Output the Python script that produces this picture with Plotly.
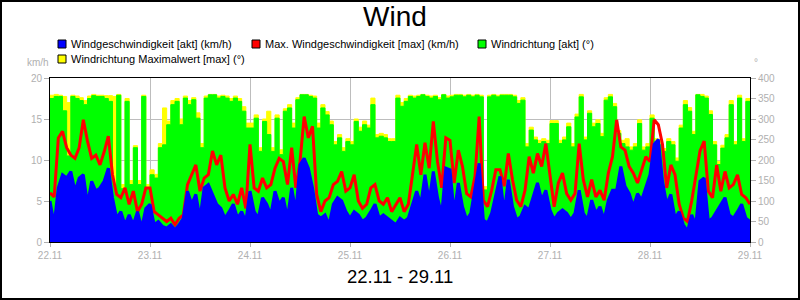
import plotly.graph_objects as go
import pandas as pd

# ---- data (hourly, 22.11 00:00 .. 29.11 00:00) ----
times = pd.date_range("2021-11-22 00:00", periods=169, freq="h")

wind_dir = [  # Windrichtung [akt] (deg)
    350,355,355,320,210,355,350,345,335,350,357,355,355,350,343,140,358,130,343,140,230,140,355,130,
    164,156,230,237,286,335,343,286,351,335,347,302,230,351,359,359,351,355,351,343,351,343,319,278,
    278,302,221,294,262,221,302,213,319,327,278,347,359,359,355,351,278,327,310,286,237,254,221,245,
    237,294,270,286,278,335,254,258,254,245,245,351,331,343,355,351,355,359,355,351,355,347,359,351,
    354,358,358,354,358,354,358,354,127,354,358,354,358,358,358,354,338,346,232,273,249,240,245,240,
    289,289,240,249,
    281,232,305,354,249,314,281,289,257,346,354,330,265,240,232,224,232,289,224,232,
    302,245,237,221,245,237,197,278,335,319,262,359,355,351,311,237,189,229,254,335,237,351,245,343,311,
]
wind_dir_max = [  # Windrichtung Maximalwert [max] (deg)
    358,360,358,355,340,358,356,352,345,356,360,358,358,357,357,355,360,140,350,150,235,150,358,140,
    176,165,240,327,295,345,350,300,356,345,352,315,240,356,360,360,356,358,356,350,356,350,330,290,
    290,310,230,300,319,230,310,225,325,335,290,352,360,360,358,356,290,335,318,295,245,262,230,252,
    245,300,280,295,285,351,262,265,262,252,252,358,340,350,358,356,358,360,358,356,358,352,360,356,
    358,360,360,358,360,358,360,358,135,358,360,358,360,360,360,358,345,352,240,280,256,248,252,248,
    296,296,248,256,
    290,240,312,360,256,320,290,298,265,352,360,338,272,248,252,232,240,298,232,240,
    310,252,245,228,252,245,205,285,345,328,270,360,360,356,320,245,196,236,262,345,245,358,252,350,320,
]
speed_max = [  # Max. Windgeschwindigkeit [max] (km/h)
    6.0,5.5,12.7,13.5,11.5,10.6,10.2,11.5,14.9,12.3,10.2,10.6,9.4,11.0,12.9,8.2,5.8,5.4,6.6,4.6,6.2,3.7,4.6,6.6,
    6.6,3.7,3.3,2.9,2.5,2.9,2.1,2.9,3.3,7.0,8.2,9.4,6.2,7.8,8.2,11.1,9.4,10.6,6.6,5.0,5.8,4.6,6.6,4.1,
    11.9,6.6,6.2,7.8,6.6,7.0,9.0,10.2,9.8,7.0,11.5,6.6,9.8,15.3,12.7,14.1,5.8,3.7,5.0,5.4,7.0,7.4,8.6,6.2,
    6.6,8.2,5.0,4.1,4.6,6.6,7.0,5.0,4.6,5.4,3.7,4.6,5.4,3.7,4.6,8.2,11.9,8.2,12.1,9.0,14.7,9.8,6.6,12.7,
    12.4,7.2,11.2,9.2,5.9,5.5,8.0,15.3,5.1,4.3,6.3,8.8,8.8,6.8,10.8,7.6,5.1,4.3,6.3,10.4,8.4,10.8,9.2,12.0,
    8.4,4.3,7.2,8.4,
    5.9,5.1,5.9,12.0,7.6,5.5,7.6,5.5,6.3,5.1,8.4,10.4,14.9,11.6,11.2,9.2,8.4,7.2,8.8,10.4,
    9.8,14.9,14.3,11.9,6.6,9.4,8.2,4.6,2.9,2.5,5.0,7.8,11.1,12.3,6.2,5.4,9.4,6.2,8.6,6.6,7.0,8.2,5.8,5.4,4.6,
]
speed = [  # Windgeschwindigkeit [akt] (km/h)
    5.0,2.1,6.6,8.2,7.8,8.6,6.2,7.8,8.2,4.6,7.4,6.2,6.6,7.4,9.0,5.4,2.9,3.7,2.1,3.3,2.1,3.7,1.7,4.1,
    4.6,2.1,2.5,1.9,1.7,2.1,1.5,2.1,2.9,6.2,4.6,5.8,2.9,6.6,7.0,5.8,4.6,4.1,2.9,3.7,4.6,2.9,3.7,2.5,
    6.2,3.7,2.9,5.4,4.6,3.3,6.2,4.6,5.4,2.9,6.6,3.7,9.4,10.2,9.0,6.6,3.3,2.9,3.3,2.1,4.6,5.4,5.0,3.7,
    2.9,3.7,3.3,2.5,2.9,3.7,4.6,2.9,3.3,2.9,2.5,2.1,2.9,2.5,2.9,4.6,6.2,4.6,8.2,5.0,8.6,5.4,3.3,9.0,
    8.8,3.5,7.2,4.3,2.7,3.5,6.3,9.6,2.7,2.3,3.5,5.9,8.0,3.5,7.6,4.3,2.7,3.1,4.3,3.9,5.5,7.2,5.1,6.3,
    3.9,2.7,3.5,3.9,
    3.5,2.7,3.5,6.3,3.5,2.7,5.1,3.5,4.3,2.7,5.1,6.3,6.3,9.2,6.8,5.9,4.3,5.9,5.1,6.8,
    8.2,11.9,12.5,7.4,4.6,5.8,2.9,3.7,2.1,1.3,3.3,2.1,7.4,7.8,2.5,2.9,3.7,4.6,5.4,3.3,2.9,3.7,4.6,2.9,2.5,
]
tick_days = pd.date_range("2021-11-22", periods=8, freq="D")
tick_labels = ["22.11", "23.11", "24.11", "25.11", "26.11", "27.11", "28.11", "29.11"]
series_names = ["Windgeschwindigkeit [akt] (km/h)", "Max. Windgeschwindigkeit [max] (km/h)",
                "Windrichtung [akt] (°)", "Windrichtung Maximalwert [max] (°)"]
series_colors = ["#0000ff", "#ff0000", "#00ff00", "#ffff00"]

# ---- layout geometry ----
W, H = 800, 300
L, R, T, B = 50, 50, 78, 58
PW, PH = W - L - R, H - T - B
def px(x): return (x - L) / PW
def py(y): return (H - B - y) / PH

FONT = "Liberation Sans, Arial, sans-serif"
GRAY = "#b0b0b0"

fig = go.Figure()
# direction series on base axis (drawn below)
fig.add_trace(go.Scatter(x=times, y=wind_dir_max, yaxis="y", mode="lines", line_shape="hv",
                         line=dict(color=series_colors[3], width=1), fill="tozeroy",
                         fillcolor=series_colors[3], name=series_names[3], showlegend=False))
fig.add_trace(go.Scatter(x=times, y=wind_dir, yaxis="y", mode="lines", line_shape="hv",
                         line=dict(color=series_colors[2], width=1), fill="tozeroy",
                         fillcolor=series_colors[2], name=series_names[2], showlegend=False))
# speed series on overlay axis (drawn on top)
fig.add_trace(go.Scatter(x=times, y=speed_max, yaxis="y2", mode="lines",
                         line=dict(color=series_colors[1], width=3), name=series_names[1], showlegend=False))
fig.add_trace(go.Scatter(x=times, y=speed, yaxis="y2", mode="lines", fill="tozeroy",
                         fillcolor=series_colors[0],
                         line=dict(color=series_colors[0], width=3), name=series_names[0], showlegend=False))

tickfont = dict(family=FONT, size=10, color=GRAY)
fig.update_layout(
    width=W, height=H, margin=dict(l=L, r=R, t=T, b=B),
    paper_bgcolor="white", plot_bgcolor="white", showlegend=False,
    xaxis=dict(range=[tick_days[0], tick_days[-1]], tickvals=list(tick_days), ticktext=tick_labels,
               showgrid=True, gridcolor="#bdbdbd", gridwidth=1,
               ticks="outside", ticklen=4, tickcolor=GRAY, tickfont=tickfont,
               showline=True, linecolor="black", linewidth=1, mirror=True, zeroline=False),
    yaxis=dict(range=[0, 400], dtick=50, side="right", showgrid=False, zeroline=False,
               ticks="outside", ticklen=5, tickcolor=GRAY, tickfont=tickfont,
               showline=True, linecolor="black", linewidth=1),
    yaxis2=dict(range=[0, 20], dtick=5, side="left", overlaying="y", showgrid=True,
                gridcolor="#bdbdbd", gridwidth=1, zeroline=False,
                ticks="outside", ticklen=5, tickcolor=GRAY, tickfont=tickfont,
                showline=True, linecolor="black", linewidth=1),
)

ann = []
shapes = []
ann.append(dict(text="Wind", x=px(395), y=py(17), xref="paper", yref="paper", showarrow=False,
                xanchor="center", yanchor="middle", font=dict(family=FONT, size=28, color="black")))
ann.append(dict(text=f"{tick_labels[0]} - {tick_labels[-1]}", x=px(400), y=py(276), xref="paper", yref="paper",
                showarrow=False, xanchor="center", yanchor="middle",
                font=dict(family=FONT, size=18.5, color="black")))
ann.append(dict(text="km/h", x=px(37.5), y=py(63), xref="paper", yref="paper", showarrow=False,
                xanchor="center", yanchor="middle", font=dict(family=FONT, size=10, color=GRAY)))
ann.append(dict(text="°", x=px(756), y=py(63), xref="paper", yref="paper", showarrow=False,
                xanchor="center", yanchor="middle", font=dict(family=FONT, size=10, color=GRAY)))

legend_pos = [(58, 44), (252, 44), (478, 44), (58, 59)]
for (lx, ly), name, col in zip(legend_pos, series_names, series_colors):
    shapes.append(dict(type="rect", xref="paper", yref="paper",
                       x0=px(lx), x1=px(lx + 8), y0=py(ly + 4), y1=py(ly - 4),
                       fillcolor=col, line=dict(color="black", width=1)))
    ann.append(dict(text=name, x=px(lx + 11), y=py(ly), xref="paper", yref="paper", showarrow=False,
                    xanchor="left", yanchor="middle", font=dict(family=FONT, size=11, color="black")))

# outer frame
shapes.append(dict(type="rect", xref="paper", yref="paper", x0=px(1), x1=px(799), y0=py(299), y1=py(1),
                   line=dict(color="black", width=2), fillcolor="rgba(0,0,0,0)"))
fig.update_layout(annotations=ann, shapes=shapes)

fig.write_html("out.html")
